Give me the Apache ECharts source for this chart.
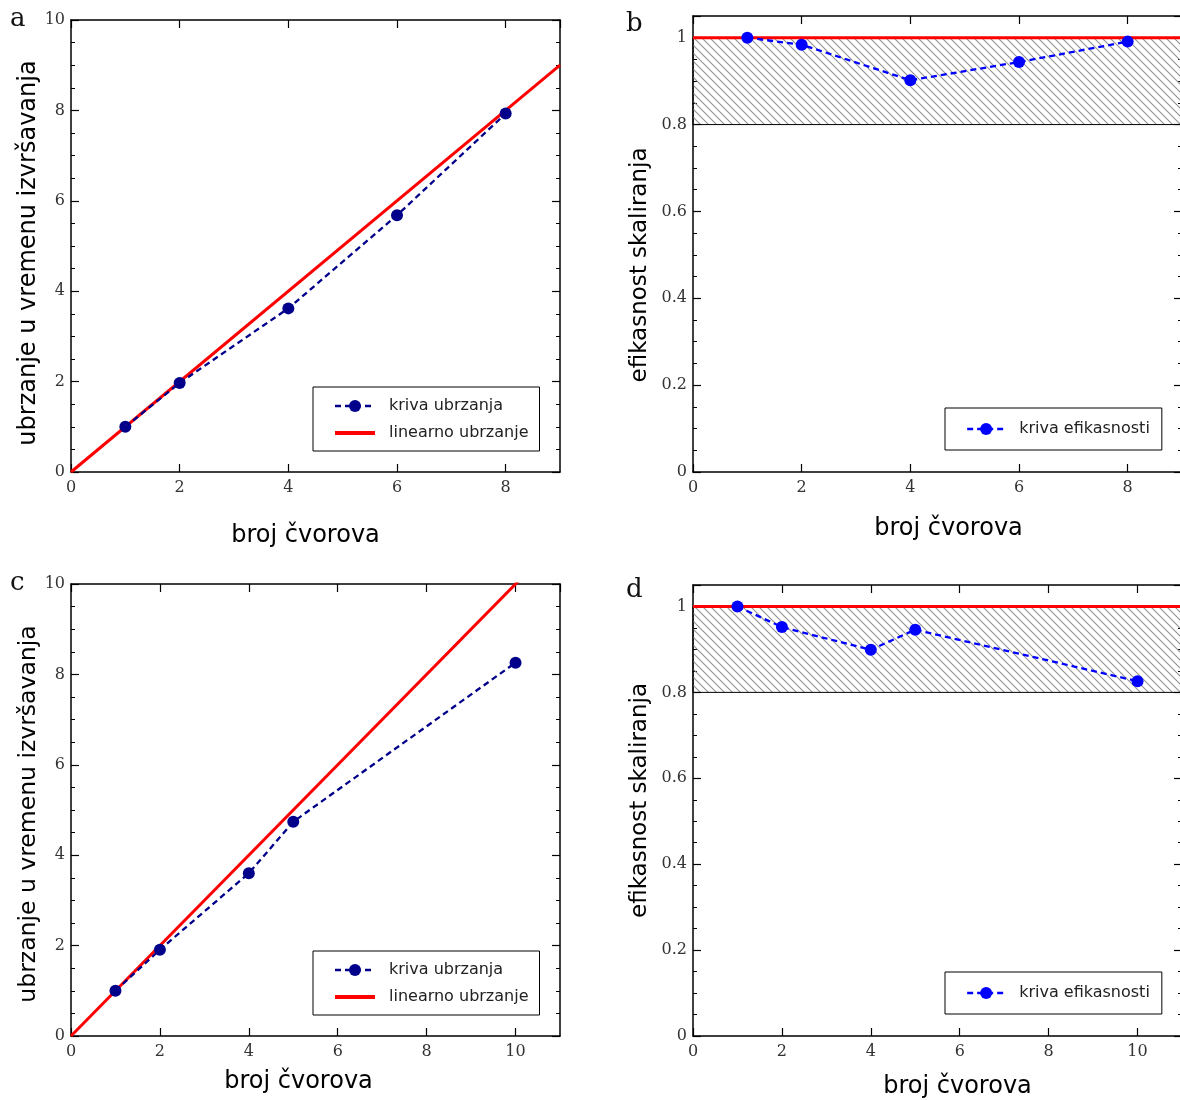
<!DOCTYPE html>
<html>
<head>
<meta charset="utf-8">
<title>ubrzanje i efikasnost</title>
<script src="https://cdn.jsdelivr.net/npm/echarts@6.0.0/dist/echarts.min.js"></script>
<style>
  html, body { margin: 0; padding: 0; background: #fff; }
  #chart { width: 1180px; height: 1100px; }
</style>
</head>
<body>
<div id="chart"></div>
<script>
// podaci ocitani sa slike
var nodesA = [1, 2, 4, 6, 8];
var speedupA = [1.0, 1.97, 3.62, 5.68, 7.93];
var efficiencyB = [1.0, 0.984, 0.902, 0.944, 0.991];
var nodesC = [1, 2, 4, 5, 10];
var speedupC = [1.0, 1.91, 3.6, 4.74, 8.26];
var efficiencyD = [1.0, 0.952, 0.899, 0.946, 0.826];
var xMaxTop = 9;
var xMaxBottom = 11;
var linearTop = [[0, 0], [9, 9]];
var linearBottom = [[0, 0], [11, 11]];
var idealTop = [[0, 1], [9, 1]];
var idealBottom = [[0, 1], [11, 1]];
var hatchRange = [0.8, 1.0];

function zip(xs, ys) {
	return xs.map(function (x, i) { return [x, ys[i]]; });
}

// srafura za podrucje 0.8 - 1
var hatch = document.createElement('canvas');
hatch.width = 8;
hatch.height = 8;
var hctx = hatch.getContext('2d');
hctx.strokeStyle = '#909090';
hctx.lineWidth = 1.1;
[-8, 0, 8].forEach(function (o) {
	hctx.beginPath();
	hctx.moveTo(o - 1, -1);
	hctx.lineTo(o + 9, 9);
	hctx.stroke();
});

var chart = echarts.init(document.getElementById('chart'));

var grids = [
	{left: 71, top: 20, width: 489, height: 452},
	{left: 693, top: 16, width: 489, height: 456},
	{left: 71, top: 584, width: 489, height: 452},
	{left: 693, top: 585, width: 489, height: 451}
];

var labelFont = {fontFamily: 'DejaVu Serif', fontSize: 16, color: '#333'};
var nameFont = {fontFamily: 'DejaVu Sans', fontSize: 24, color: '#000'};

function xAxis(gridIndex, max, position, nameGap, pad) {
	var bottom = position === 'bottom';
	return {
		type: 'value',
		gridIndex: gridIndex,
		position: position,
		min: 0,
		max: max,
		interval: 2,
		name: bottom ? 'broj čvorova' : '',
		nameLocation: 'middle',
		nameGap: nameGap,
		nameTextStyle: Object.assign({}, nameFont, {padding: pad || 0}),
		axisLine: {show: true, onZero: false, lineStyle: {color: '#000', width: 1.5}},
		axisTick: {show: true, inside: true, length: 8, lineStyle: {color: '#000', width: 1.2}},
		axisLabel: Object.assign({show: bottom, margin: 8, showMaxLabel: false}, labelFont),
		splitLine: {show: false}
	};
}

function yAxis(gridIndex, max, interval, position, name, nameGap, fontSize, pad) {
	var left = position === 'left';
	return {
		type: 'value',
		gridIndex: gridIndex,
		position: position,
		min: 0,
		max: max,
		interval: interval,
		name: left ? name : '',
		nameLocation: 'middle',
		nameGap: nameGap,
		nameTextStyle: Object.assign({}, nameFont, {fontSize: fontSize, padding: pad}),
		axisLine: {show: true, onZero: false, lineStyle: {color: '#000', width: 1.5}},
		axisTick: {show: true, inside: true, length: 8, lineStyle: {color: '#000', width: 1.2}},
		minorTick: {show: true, splitNumber: 4, length: 4, lineStyle: {color: '#000', width: 1}},
		axisLabel: Object.assign({show: left, margin: 6, showMaxLabel: max === 10}, labelFont),
		splitLine: {show: false},
		minorSplitLine: {show: false}
	};
}

var speedupName = 'kriva ubrzanja';
var linearName = 'linearno ubrzanje';
var effName = 'kriva efikasnosti';

function speedupSeries(i, data) {
	return {
		name: speedupName,
		type: 'line',
		xAxisIndex: i,
		yAxisIndex: i,
		data: data,
		z: 4,
		symbol: 'circle',
		symbolSize: 12,
		itemStyle: {color: '#00008b'},
		lineStyle: {color: '#00008b', width: 2.3, type: [6, 4]},
		animation: false
	};
}

function linearSeries(i, data) {
	return {
		name: linearName,
		type: 'line',
		xAxisIndex: i,
		yAxisIndex: i,
		data: data,
		z: 3,
		symbol: 'none',
		itemStyle: {color: '#ff0000'},
		lineStyle: {color: '#ff0000', width: 3},
		animation: false
	};
}

function idealSeries(i, data) {
	return {
		name: 'idealno',
		type: 'line',
		xAxisIndex: i,
		yAxisIndex: i,
		data: data,
		z: 3,
		symbol: 'none',
		lineStyle: {color: '#ff0000', width: 3},
		markArea: {
			silent: true,
			itemStyle: {
				color: {image: hatch, repeat: 'repeat'},
				borderColor: '#000',
				borderWidth: 1
			},
			data: [[{yAxis: hatchRange[0]}, {yAxis: hatchRange[1]}]]
		},
		animation: false
	};
}

function effSeries(i, data) {
	return {
		name: effName,
		type: 'line',
		xAxisIndex: i,
		yAxisIndex: i,
		data: data,
		z: 4,
		symbol: 'circle',
		symbolSize: 12,
		itemStyle: {color: '#0000ff'},
		lineStyle: {color: '#0000ff', width: 2.3, type: [6, 4]},
		animation: false
	};
}

function legend(left, top, data, padding, itemWidth) {
	return {
		left: left,
		top: top,
		orient: 'vertical',
		data: data,
		selectedMode: false,
		backgroundColor: '#fff',
		borderColor: '#000',
		borderWidth: 1,
		borderRadius: 0,
		padding: padding,
		itemGap: 11,
		itemWidth: itemWidth,
		itemHeight: 15,
		lineStyle: {width: 'inherit'},
		textStyle: {fontFamily: 'DejaVu Sans', fontSize: 16, color: '#222', padding: [0, 0, 0, 9]}
	};
}

function letter(text, left, top) {
	return {
		text: text,
		left: left,
		top: top,
		padding: 0,
		textStyle: {fontFamily: 'DejaVu Serif', fontSize: 26, fontWeight: 'normal', color: '#111'}
	};
}

var linearLegendItem = {name: linearName, itemStyle: {opacity: 0}, lineStyle: {width: 4}};

var option = {
	backgroundColor: '#fff',
	animation: false,
	title: [
		letter('a', 10, 6),
		letter('b', 626, 11),
		letter('c', 10, 570),
		letter('d', 626, 577)
	],
	legend: [
		legend(313, 387, [speedupName, linearLegendItem], [11, 11, 10, 20], 40),
		legend(945, 408, [effName], [13, 12, 13, 21], 38),
		legend(313, 951, [speedupName, linearLegendItem], [11, 11, 10, 20], 40),
		legend(945, 972, [effName], [13, 12, 13, 21], 38)
	],
	grid: grids.map(function (g) {
		return Object.assign({containLabel: false, outerBoundsMode: 'none', show: false}, g);
	}),
	xAxis: [
		xAxis(0, xMaxTop, 'bottom', 52, [0, 20, 0, 0]),
		xAxis(1, xMaxTop, 'bottom', 45, [0, 0, 0, 22]),
		xAxis(2, xMaxBottom, 'bottom', 34, [0, 34, 0, 0]),
		xAxis(3, xMaxBottom, 'bottom', 39, [0, 0, 0, 40]),
		xAxis(0, xMaxTop, 'top', 0),
		xAxis(1, xMaxTop, 'top', 0),
		xAxis(2, xMaxBottom, 'top', 0),
		xAxis(3, xMaxBottom, 'top', 0)
	],
	yAxis: [
		yAxis(0, 10, 2, 'left', 'ubrzanje u vremenu izvršavanja', 22, 24, [0, 14, 0, 0]),
		yAxis(1, 1.05, 0.2, 'left', 'efikasnost skaliranja', 41, 23, [0, 42, 0, 0]),
		yAxis(2, 10, 2, 'left', 'ubrzanje u vremenu izvršavanja', 22, 23.5, [0, 8, 0, 0]),
		yAxis(3, 1.05, 0.2, 'left', 'efikasnost skaliranja', 41, 23, [0, 0, 0, 20]),
		yAxis(0, 10, 2, 'right', '', 0, 24, 0),
		yAxis(1, 1.05, 0.2, 'right', '', 0, 24, 0),
		yAxis(2, 10, 2, 'right', '', 0, 24, 0),
		yAxis(3, 1.05, 0.2, 'right', '', 0, 24, 0)
	],
	series: [
		speedupSeries(0, zip(nodesA, speedupA)),
		linearSeries(0, linearTop),
		idealSeries(1, idealTop),
		effSeries(1, zip(nodesA, efficiencyB)),
		speedupSeries(2, zip(nodesC, speedupC)),
		linearSeries(2, linearBottom),
		idealSeries(3, idealBottom),
		effSeries(3, zip(nodesC, efficiencyD))
	]
};

chart.setOption(option);
</script>
</body>
</html>
